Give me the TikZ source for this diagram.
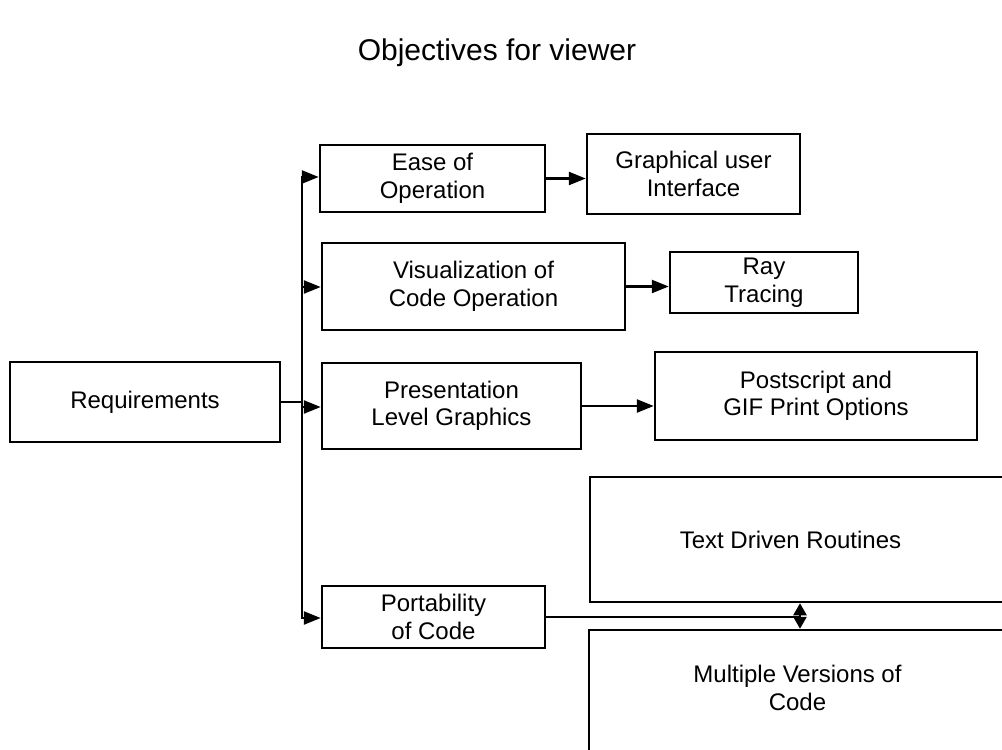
\documentclass[tikz,border=0pt]{standalone}
\usepackage{fontspec}
\setmainfont{Liberation Sans}
\usetikzlibrary{arrows.meta,calc}
\begin{document}
\begin{tikzpicture}[x=1pt,y=-1pt,
  box/.style={draw, line width=2.5pt, inner sep=0pt, align=center,
    font=\fontsize{24}{27.5}\selectfont},
  conn/.style={line width=2.5pt},
  arr/.style={line width=2.5pt, -{Triangle[length=17pt,width=13pt]}},
  sarr/.style={line width=2.5pt, -{Triangle[length=12pt,width=13pt]}},
  ttl/.style={font=\fontsize{30}{34}\selectfont}]
\clip (0,0) rectangle (1002,750);
\useasboundingbox (0,0) rectangle (1002,750);
\node[ttl] (title) at (497,53) {Objectives for viewer};
\node[box, minimum width=270pt, minimum height=80pt] (req) at (145,402) {Requirements};
\node[box, minimum width=225pt, minimum height=67pt] (ease) at (432.5,178.5) {Ease of\\Operation};
\node[box, minimum width=213pt, minimum height=80pt] (gui) at (693.5,174) {Graphical user\\Interface};
\node[box, minimum width=303pt, minimum height=87pt] (vis) at (473.5,286.5) {Visualization of\\Code Operation};
\node[box, minimum width=188pt, minimum height=61pt] (ray) at (764,282.5) {Ray\\Tracing};
\node[box, minimum width=259pt, minimum height=86pt] (pres) at (451.5,406) {Presentation\\Level Graphics};
\node[box, minimum width=322pt, minimum height=88pt] (post) at (816,396) {Postscript and\\GIF Print Options};
\node[box, minimum width=425pt, minimum height=125pt,
  label={[font=\fontsize{24}{27.5}\selectfont, xshift=-12pt]center:Text Driven Routines}] (txt) at (802.5,539.5) {};
\node[box, minimum width=223pt, minimum height=62pt] (port) at (433.5,617) {Portability\\of Code};
\node[box, minimum width=421pt, minimum height=122pt,
  label={[font=\fontsize{24}{27.5}\selectfont, align=center, xshift=-2pt, yshift=3pt]center:Multiple Versions of\\Code}] (multi) at (799.5,691) {};
% trunk
\coordinate (t1) at (302,177);
\coordinate (t2) at (302,287);
\coordinate (t3) at (302,407);
\coordinate (t4) at (302,618);
\coordinate (jn) at (800,617);
\draw[conn] (req.east) -- (req.east -| t1);
\draw[conn, line cap=rect] (t1) -- (t4);
\draw[arr] (t1) -- (t1 -| ease.west);
\draw[arr] (t2) -- (t2 -| vis.west);
\draw[arr] (t3) -- (t3 -| pres.west);
\draw[arr] (t4) -- (t4 -| port.west);
\draw[arr] (ease.east) -- (ease.east -| gui.west);
\draw[arr] (vis.east) -- (vis.east -| ray.west);
\draw[arr] (pres.east) -- (pres.east -| post.west);
\draw[conn] (port.east) -- (jn);
\draw[sarr] (jn) -- (jn |- txt.south);
\draw[sarr] (jn) -- (jn |- multi.north);
\end{tikzpicture}
\end{document}
